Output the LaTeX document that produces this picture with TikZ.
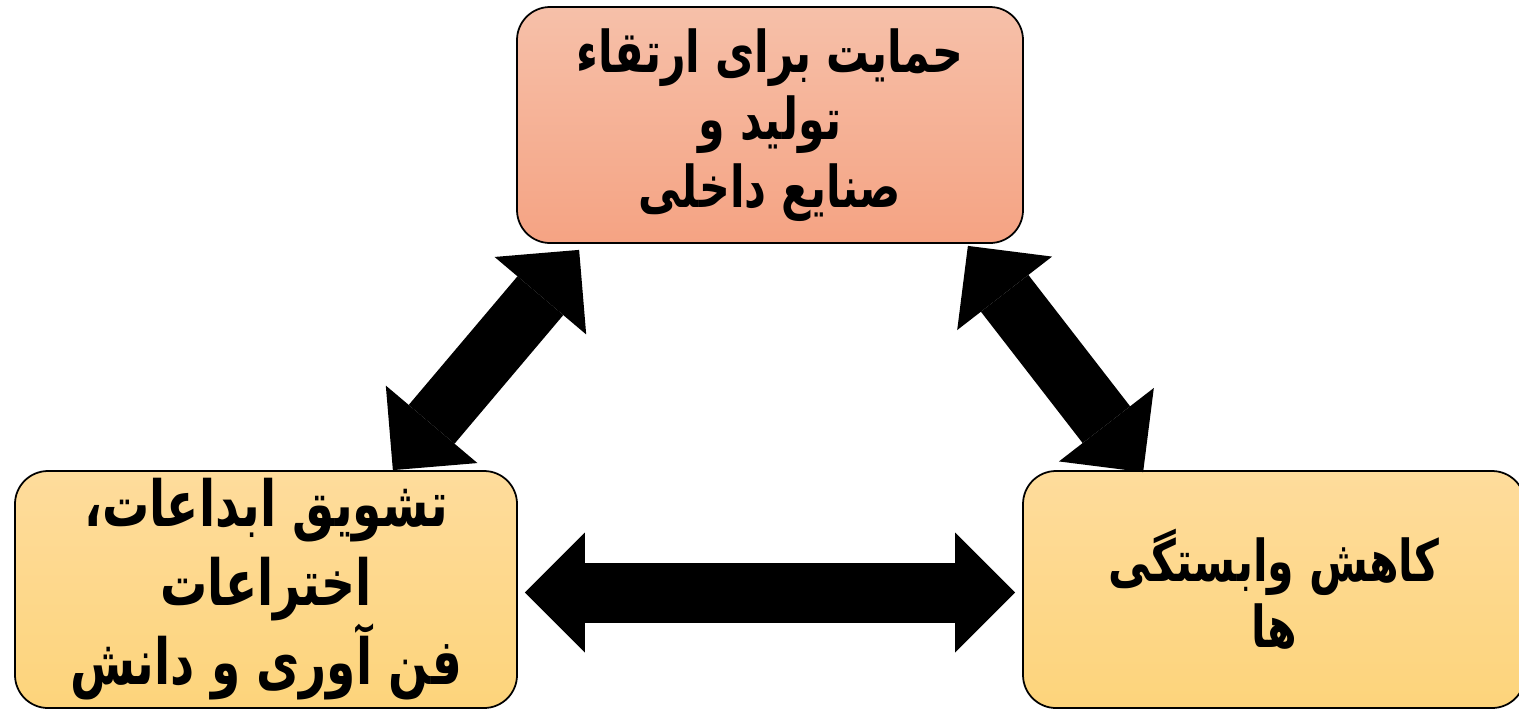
\documentclass[tikz,border=0pt]{standalone}
\usepackage{fontspec}
\usepackage{tikz}
\usetikzlibrary{arrows.meta}
\TeXXeTstate=1
\newfontfamily\farsi[Script=Arabic,FakeStretch=0.74]{DejaVu Sans}

\definecolor{salmonup}{HTML}{F6C0A9}
\definecolor{salmondown}{HTML}{F5A383}
\definecolor{sandup}{HTML}{FEDC9C}
\definecolor{sanddown}{HTML}{FDD47B}

\begin{document}
\begin{tikzpicture}
  [>={Triangle[length=0.6cm,width=1.2cm,line width=0pt]},
   every node/.style={draw=black,line width=0.5pt,rounded corners=0.33cm,inner sep=0pt,
     align=center}]

  \tikzstyle{topbox} = [top color=salmonup,bottom color=salmondown,
                        minimum width=5.06cm,minimum height=2.36cm,
                        font=\farsi\bfseries\fontsize{16.4}{19.3}\selectfont]
  \tikzstyle{lowbox} = [top color=sandup,bottom color=sanddown,
                        minimum width=5.02cm,minimum height=2.37cm]

  \useasboundingbox (0,0) rectangle (15.19,7.09);

  \node[topbox] (support) at (7.70,5.84)
    {\beginR حمایت برای ارتقاء\endR\\ \beginR تولید و\endR\\ \beginR صنایع داخلی\endR};
  \node[lowbox,font=\farsi\bfseries\fontsize{18.1}{22.5}\selectfont] (innovate) at (2.66,1.195)
    {\beginR تشویق ابداعات،\endR\\ \beginR اختراعات\endR\\ \beginR فن آوری و دانش\endR};
  \node[lowbox,font=\farsi\bfseries\fontsize{16.4}{18.8}\selectfont] (depend) at (12.74,1.195)
    {\beginR کاهش وابستگی\endR\\ \beginR ها\endR};

  \path[<->, line width=0.6cm]
        ([xshift=0.63cm,yshift=-0.06cm]support.south west)
          edge ([xshift=-1.25cm]innovate.north east)
        ([xshift=-0.56cm,yshift=-0.02cm]support.south east)
          edge ([xshift=1.21cm,yshift=-0.02cm]depend.north west)
        ([xshift=0.07cm,yshift=-0.03cm]innovate.east)
          edge ([xshift=-0.07cm,yshift=-0.03cm]depend.west);
\end{tikzpicture}
\end{document}
